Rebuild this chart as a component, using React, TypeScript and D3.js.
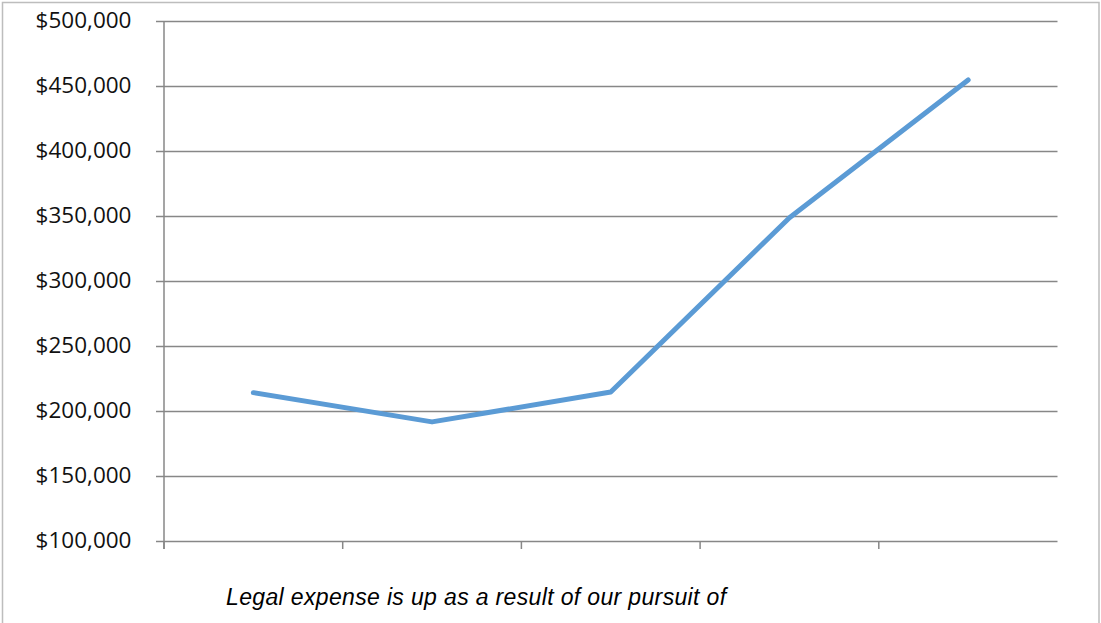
import React from "react";
import * as d3 from "d3";

const categories = ["1", "2", "3", "4", "5"];
const legalExpense = [214500, 192000, 215000, 349000, 455000];
const yTicks = [100000, 150000, 200000, 250000, 300000, 350000, 400000, 450000, 500000];
const note = "Legal expense is up as a result of our pursuit of";

const W = 1101;
const H = 623;
const left = 164;
const right = 1057.5;
const top = 21.5;
const bottom = 541.5;

export default function App() {
  const x = d3.scaleBand<string>().domain(categories).range([left, right]);
  const y = d3.scaleLinear().domain([100000, 500000]).range([bottom, top]);
  const fmt = (v: number) => "$" + d3.format(",")(v);
  const line = d3
    .line<number>()
    .x((_, i) => (x(categories[i]) as number) + x.bandwidth() / 2)
    .y((d) => y(d));
  const xTickPos = categories.map((c) => x(c) as number);
  const grid = "#878787";

  return (
    <svg
      width={W}
      height={H}
      style={{ position: "absolute", left: 0, top: 0, background: "#fff" }}
    >
      <rect x={2.5} y={2.5} width={1096.5} height={H + 20} fill="#fff" stroke="#bdbdbd" strokeWidth={1.5} />
      {yTicks.map((t) => (
        <g key={t}>
          <line x1={156} x2={right} y1={y(t)} y2={y(t)} stroke={grid} strokeWidth={1.5} />
          <text
            x={131.5}
            y={y(t) + 6.3}
            textAnchor="end"
            fontFamily="'Open Sans', sans-serif"
            fontSize={22.5}
            fill="#111"
          >
            {fmt(t)}
          </text>
        </g>
      ))}
      <line x1={left} x2={left} y1={top} y2={549} stroke={grid} strokeWidth={1.5} />
      {xTickPos.map((p, i) => (
        <line key={i} x1={p} x2={p} y1={bottom} y2={549} stroke={grid} strokeWidth={1.5} />
      ))}
      <path
        d={line(legalExpense) || ""}
        fill="none"
        stroke="#5B9BD5"
        strokeWidth={5}
        strokeLinecap="round"
        strokeLinejoin="round"
      />
      <text
        x={226}
        y={605}
        fontFamily="'Liberation Sans', Arial, sans-serif"
        fontStyle="italic"
        fontSize={23}
        letterSpacing={0.35}
        fill="#000"
      >
        {note}
      </text>
    </svg>
  );
}
